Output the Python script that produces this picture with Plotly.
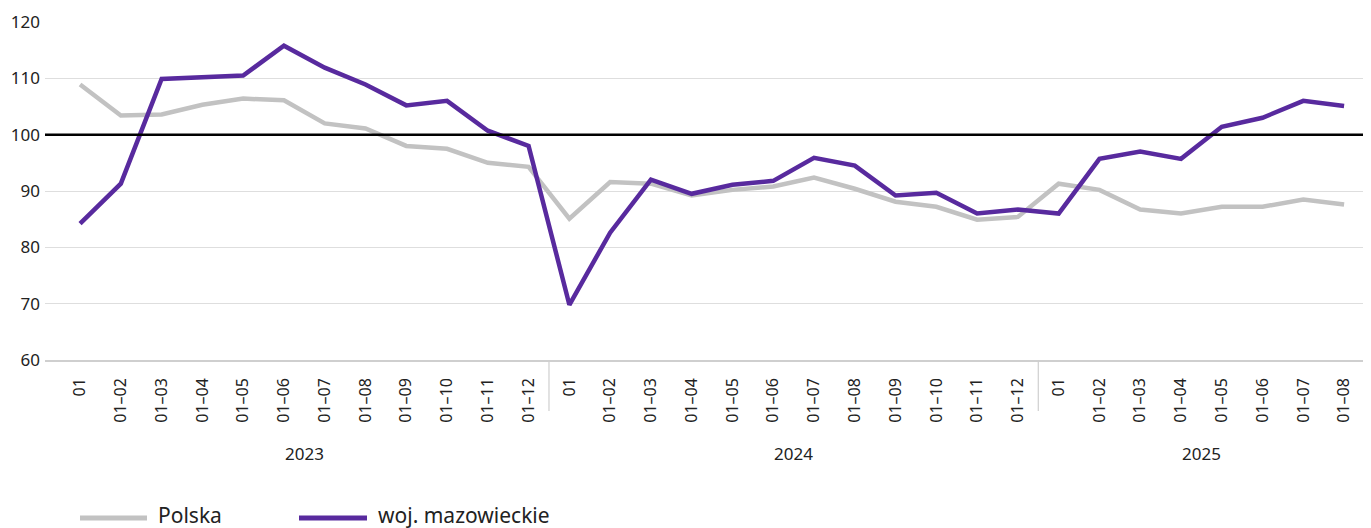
import plotly.graph_objects as go

months = ["01", "01–02", "01–03", "01–04", "01–05", "01–06", "01–07", "01–08",
          "01–09", "01–10", "01–11", "01–12",
          "01", "01–02", "01–03", "01–04", "01–05", "01–06", "01–07", "01–08",
          "01–09", "01–10", "01–11", "01–12",
          "01", "01–02", "01–03", "01–04", "01–05", "01–06", "01–07", "01–08"]
years = ["2023", "2024", "2025"]
year_counts = [12, 12, 8]

polska = [108.9, 103.4, 103.6, 105.3, 106.4, 106.1, 102.0, 101.1, 98.0, 97.5, 95.0, 94.3,
          85.1, 91.6, 91.3, 89.2, 90.2, 90.8, 92.4, 90.4, 88.1, 87.2, 84.9, 85.4,
          91.3, 90.2, 86.7, 86.0, 87.2, 87.2, 88.5, 87.6]
mazowieckie = [84.2, 91.3, 109.9, 110.1, 110.5, 115.8, 111.9, 108.9, 105.2, 106.0, 100.7, 98.0,
               69.8, 82.6, 92.0, 89.5, 91.1, 91.8, 95.9, 94.5, 89.2, 89.7, 86.0, 86.7,
               86.0, 95.7, 97.0, 95.7, 101.4, 103.0, 106.0, 105.1]

GRAY = "#c2c2c2"
PURPLE = "#582a9e"
FONT = "Noto Sans"

x = list(range(len(months)))

fig = go.Figure()
fig.add_trace(go.Scatter(x=x, y=polska, mode="lines", name="Polska",
                         line=dict(color=GRAY, width=4.5), showlegend=False))
fig.add_trace(go.Scatter(x=x, y=mazowieckie, mode="lines", name="woj. mazowieckie",
                         line=dict(color=PURPLE, width=4.5), showlegend=False))

# reference line at 100
fig.add_shape(type="line", xref="paper", yref="y", x0=0, x1=1, y0=100, y1=100,
              line=dict(color="black", width=2.5), layer="above")

# page offset of the figure (browser body margin)
OFF = 8
H = 338.0
W = 1326.0
def px_x(p):
    return (p - 45) / W
def px_y(p):
    return (360 - p) / H

# year group labels and dividers
start = 0
for i, (yr, n) in enumerate(zip(years, year_counts)):
    center = start + (n - 1) / 2
    fig.add_annotation(x=center, xref="x", y=px_y(453), yref="paper", text=yr,
                       showarrow=False, xanchor="center", yanchor="middle",
                       font=dict(family=FONT, size=17, color="#222"))
    if i < len(years) - 1:
        fig.add_shape(type="line", xref="x", yref="paper",
                      x0=start + n - 0.5, x1=start + n - 0.5, y0=0, y1=px_y(411),
                      line=dict(color="#cfcfcf", width=1.2))
    start += n

# custom legend
legend_items = [("Polska", GRAY, 80, 147, 156), ("woj. mazowieckie", PURPLE, 299, 367, 376)]
for label, col, lx0, lx1, tx in legend_items:
    fig.add_shape(type="line", xref="paper", yref="paper",
                  x0=px_x(lx0), x1=px_x(lx1), y0=px_y(518), y1=px_y(518),
                  line=dict(color=col, width=5))
    fig.add_annotation(x=px_x(tx), xref="paper", y=px_y(515), yref="paper", text=label,
                       showarrow=False, xanchor="left", yanchor="middle",
                       font=dict(family=FONT, size=21, color="#222"))

fig.update_layout(
    width=1371 - OFF, height=528 - OFF,
    margin=dict(l=45 - OFF, r=0, t=22 - OFF, b=168),
    plot_bgcolor="white", paper_bgcolor="white",
    font=dict(family=FONT, size=16, color="#222"),
    xaxis=dict(range=[-0.86, 31.66], tickmode="array", tickvals=x, ticktext=months,
               tickangle=-90, showgrid=False, zeroline=False, automargin=False,
               showline=True, linecolor="#cfcfcf", linewidth=1.5,
               ticklabelstandoff=10,
               tickfont=dict(family=FONT, size=16, color="#222")),
    yaxis=dict(range=[60, 120], tickvals=[60, 70, 80, 90, 100, 110, 120],
               showgrid=True, gridcolor="#dedede", gridwidth=1.2, zeroline=False,
               automargin=False,
               tickfont=dict(family=FONT, size=17, color="#222"), ticklabelstandoff=4),
)

fig.write_html("out.html")
